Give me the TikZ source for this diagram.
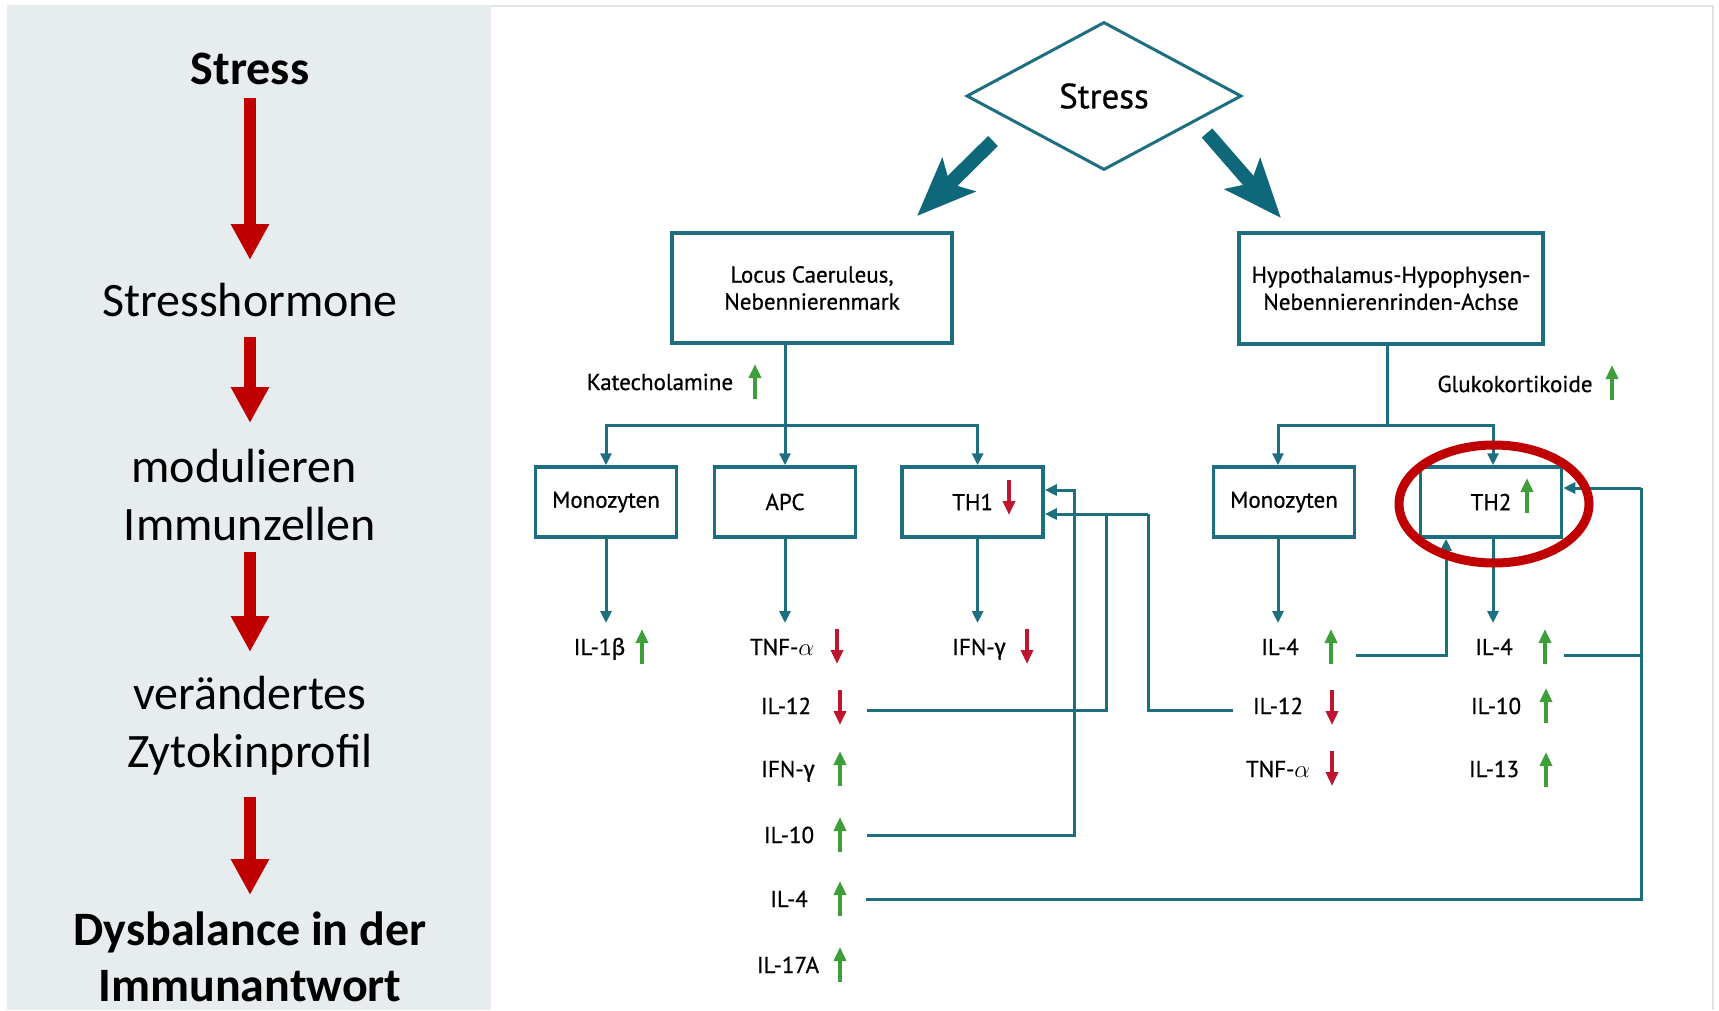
\documentclass[tikz,border=0pt]{standalone}
\usepackage{fontspec}
\setmainfont{Carlito}
\newfontfamily\dinfont[FakeBold=0.7]{PT Sans}
\newfontfamily\grkfont[FakeBold=0.7]{Fira Sans}
\usetikzlibrary{arrows.meta,shapes.geometric}

\definecolor{panelgrey}{HTML}{E7ECEE}
\definecolor{framegrey}{HTML}{DFE4E8}
\definecolor{darkred}{HTML}{C00000}
\definecolor{linkteal}{HTML}{1D6F80}
\definecolor{arrowteal}{HTML}{0F687A}
\definecolor{upgreen}{HTML}{3E9F3A}
\definecolor{downred}{HTML}{C0152F}

\tikzset{
  sidetxt/.style={font=\fontsize{48}{58}\selectfont, anchor=base, inner sep=0pt},
  sidebf/.style={font=\fontsize{48}{58}\selectfont\bfseries, anchor=base, inner sep=0pt},
  bigdown/.style={draw=darkred, line width=11.7pt, -{Triangle[width=36pt,length=36pt]}},
  bigteal/.style={draw=arrowteal, line width=14pt, -{Stealth[width=46pt,length=58pt,inset=12pt]}},
  lbox/.style={draw=linkteal, line width=3.5pt, fill=white, align=center, inner sep=0pt,
    font={\dinfont\fontsize{23}{27}\selectfont}},
  cbox/.style={lbox, minimum width=141pt, minimum height=70pt},
  cyto/.style={font={\dinfont\fontsize{23}{27}\selectfont}, anchor=base, inner sep=0pt},
  conn/.style={draw=linkteal, line width=3pt},
  connarrow/.style={conn, -{Triangle[width=11pt,length=12pt]}},
  upmark/.style={draw=upgreen, line width=3.5pt, -{Triangle[width=12pt,length=14pt]}},
  dnmark/.style={draw=downred, line width=3.5pt, -{Triangle[width=12pt,length=14pt]}},
  hlring/.style={draw=darkred, line width=9pt},
}
% small up/down markers next to a label: x, baseline
\newcommand{\upmk}[2]{\draw[upmark] (#1,#2+9) -- (#1,#2-26);}
\newcommand{\dnmk}[2]{\draw[dnmark] (#1,#2-26) -- (#1,#2+9);}

\begin{document}
\begin{tikzpicture}[x=1pt,y=-1pt]
\useasboundingbox (0,0) rectangle (1719,1010);
\fill[white] (0,0) rectangle (1719,1010);

% ---------- left summary column ----------
\fill[panelgrey] (7,5) rectangle (491,1010);
\node[sidebf]  (l1)  at (250,84)   {Stress};
\node[sidetxt] (l2)  at (250,316)  {Stresshormone};
\node[sidetxt] (l3a) at (244,482)  {modulieren};
\node[sidetxt] (l3b) at (250,540)  {Immunzellen};
\node[sidetxt] (l4a) at (250,709)  {verändertes};
\node[sidetxt] (l4b) at (250,767)  {Zytokinprofil};
\node[sidebf]  (l5a) at (250,945)  {Dysbalance in der};
\node[sidebf]  (l5b) at (250,1001) {Immunantwort};

\coordinate (r1a) at (250,98);  \coordinate (r1b) at (250,260);
\coordinate (r2a) at (250,337); \coordinate (r2b) at (250,423);
\coordinate (r3a) at (250,552); \coordinate (r3b) at (250,652);
\coordinate (r4a) at (250,797); \coordinate (r4b) at (250,895);
\draw[bigdown] (r1a) -- (r1b);
\draw[bigdown] (r2a) -- (r2b);
\draw[bigdown] (r3a) -- (r3b);
\draw[bigdown] (r4a) -- (r4b);

% ---------- right diagram frame ----------
\draw[framegrey, line width=2pt] (491,6) -- (1713,6) -- (1713,1010);

% ---------- top: stress and the two axes ----------
\node[diamond, draw=linkteal, line width=3pt, minimum width=275pt, minimum height=148pt,
      inner sep=0pt, font={\dinfont\fontsize{35}{40}\selectfont}] (stress) at (1104,96) {Stress};

\coordinate (ta1) at (993,141);  \coordinate (tb1) at (917,216);
\coordinate (ta2) at (1207,133); \coordinate (tb2) at (1281,218);
\draw[bigteal] (ta1) -- (tb1);
\draw[bigteal] (ta2) -- (tb2);

\node[lbox, minimum width=280pt, minimum height=110pt] (lc)  at (812,288)
  {Locus Caeruleus,\\Nebennierenmark};
\node[lbox, minimum width=304pt, minimum height=111pt] (hhn) at (1391,288.5)
  {Hypothalamus-Hypophysen-\\Nebennierenrinden-Achse};

\node[cyto] (kat) at (660,390)  {Katecholamine};
\upmk{755}{390}
\node[cyto] (glu) at (1515,392) {Glukokortikoide};
\upmk{1612}{391}

% ---------- immune cells ----------
\node[cbox] (mono1) at (606,502)   {Monozyten};
\node[cbox] (apc)   at (785,502)   {APC};
\node[cbox] (th1)   at (972.6,502) {TH1};
\node[cbox] (mono2) at (1284,502)  {Monozyten};
\node[cbox] (th2)   at (1491,502)  {TH2};
\dnmk{1009}{506}
\upmk{1527}{504}

\coordinate (lcb) at (785,425);
\coordinate (hhb) at (1387,425);
\coordinate (tiprow) at (0,623);

\draw[conn] (apc.north |- lc.south) -- (lcb);
\draw[connarrow] (lcb) -- (apc.north);
\draw[connarrow] (lcb) -| (mono1.north);
\draw[connarrow] (lcb) -| ([xshift=5pt]th1.north);
\draw[conn] (hhn.south -| hhb) -- (hhb);
\draw[connarrow] (hhb) -| ([xshift=-6pt]mono2.north);
\draw[connarrow] (hhb) -| ([xshift=2pt]th2.north);

\draw[connarrow] (mono1.south) -- (mono1.south |- tiprow);
\draw[connarrow] (apc.south) -- (apc.south |- tiprow);
\draw[connarrow] ([xshift=5pt]th1.south) -- ([xshift=5pt]th1.south |- tiprow);
\draw[connarrow] ([xshift=-6pt]mono2.south) -- ([xshift=-6pt]mono2.south |- tiprow);
\draw[connarrow] ([xshift=2pt]th2.south) -- ([xshift=2pt]th2.south |- tiprow);

% ---------- cytokines ----------
\node[cyto] (il1b)   at (599.5,655) {IL-1{\grkfont β}};  \upmk{642}{655}
\node[cyto] (tnfa)   at (782,655)   {TNF-$\alpha$};      \dnmk{837}{655}
\node[cyto] (ifng1)  at (979,655)   {IFN-{\grkfont γ}};  \dnmk{1027}{655}
\node[cyto] (il4m)   at (1280,655)  {IL-4};              \upmk{1331}{655}
\node[cyto] (il4t)   at (1494,655)  {IL-4};              \upmk{1545}{655}

\node[cyto] (il12a)  at (786,714)   {IL-12};             \dnmk{840}{716}
\node[cyto] (il12m)  at (1278,714)  {IL-12};             \dnmk{1332}{716}
\node[cyto] (il10t)  at (1496,714)  {IL-10};             \upmk{1546}{714}

\node[cyto] (ifnga)  at (788,777)   {IFN-{\grkfont γ}};  \upmk{840}{777}
\node[cyto] (tnfm)   at (1278,777)  {TNF-$\alpha$};      \dnmk{1332}{777}
\node[cyto] (il13)   at (1494,777)  {IL-13};             \upmk{1546}{778}

\node[cyto] (il10a)  at (789,843)   {IL-10};             \upmk{840}{843}
\node[cyto] (il4a)   at (789,907)   {IL-4};              \upmk{840}{907}
\node[cyto] (il17a)  at (788,973)   {IL-17A};            \upmk{840}{973}

% ---------- feedback lines ----------
\coordinate (s12a) at (867,710);
\coordinate (s12b) at (1233,710);
\coordinate (s10a) at (867,835);
\coordinate (s4a)  at (866,899);
\coordinate (s4m)  at (1356,655);
\coordinate (s4t)  at (1564,655);
\coordinate (j1) at (1106,514);
\coordinate (j2) at (1148,514);
\coordinate (j3) at (1074,490);
\coordinate (j4) at (1641,488);
\coordinate (j5) at (1446,655);

\draw[conn] (s12a) -| (j1);
\draw[conn] (s12b) -| (j2);
\draw[connarrow] (j2) -- (th1.east |- j2);
\draw[connarrow] (s10a) -| (j3) -- (th1.east |- j3);
\draw[connarrow] (s4m) -- (j5) -- (j5 |- th2.south);
\draw[conn] (s4a) -| (j4);
\draw[conn] (s4t) -- (s4t -| j4);
\draw[connarrow] (j4) -- (th2.east |- j4);

% ---------- highlight ----------
\draw[hlring] ([shift={(3,2)}]th2.center) ellipse [x radius=95, y radius=59];
\end{tikzpicture}
\end{document}
